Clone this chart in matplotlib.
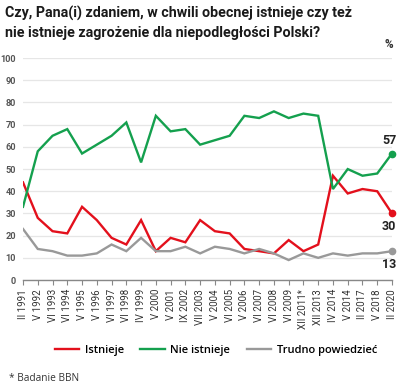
import matplotlib
matplotlib.use("Agg")
import matplotlib.pyplot as plt
from matplotlib.lines import Line2D

categories = ["II 1991", "V 1992", "VI 1993", "VI 1994", "V 1995", "V 1996", "VI 1997",
              "VI 1998", "IV 1999", "V 2000", "V 2001", "IX 2002", "VII 2003", "V 2004",
              "VI 2005", "V 2006", "VI 2007", "VI 2008", "VI 2009", "XII 2011*",
              "XII 2013", "IV 2014", "V 2014", "II 2017", "V 2018", "II 2020"]
istnieje = [44, 28, 22, 21, 33, 27, 19, 16, 27, 13, 19, 17, 27, 22, 21, 14, 13, 12, 18, 13,
            16, 47, 39, 41, 40, 30]
nie_istnieje = [33, 58, 65, 68, 57, 61, 65, 71, 53, 74, 67, 68, 61, 63, 65, 74, 73, 76, 73, 75,
                74, 41, 50, 47, 48, 57]
trudno = [23, 14, 13, 11, 11, 12, 16, 13, 19, 13, 13, 15, 12, 15, 14, 12, 14, 12, 9, 12,
          10, 12, 11, 12, 12, 13]
series_names = ["Istnieje", "Nie istnieje", "Trudno powiedzieć"]
yticks = [0, 10, 20, 30, 40, 50, 60, 70, 80, 90, 100]

RED = "#e3101c"
GREEN = "#14a04e"
GRAY = "#999999"
colors = [RED, GREEN, GRAY]

plt.rcParams['font.family'] = ['Roboto', 'DejaVu Sans']

fig = plt.figure(figsize=(4.0, 3.9), dpi=100)
ax = fig.add_axes([0.0575, 0.282, 0.9225, 0.569])

x = list(range(len(categories)))
for vals, c in zip([istnieje, nie_istnieje, trudno], colors):
    ax.plot(x, vals, color=c, lw=1.7, solid_joinstyle='miter', zorder=3)
    ax.plot([x[-1]], [vals[-1]], 'o', color=c, ms=4.5, zorder=4, clip_on=False)

ax.set_xlim(0, len(categories) - 1)
ax.set_ylim(0, 100)
ax.set_yticks(yticks)
ax.set_yticklabels([str(v) for v in yticks])
ax.tick_params(axis='y', length=0, pad=5, labelsize=6.6, labelcolor="#555555")
for t in ax.get_yticklabels():
    t.set_fontweight('bold')
ax.grid(axis='y', color="#e6e6e6", lw=0.9)
ax.set_axisbelow(True)
ax.set_xticks(x)
ax.set_xticklabels(categories)
ax.tick_params(axis='x', length=3.5, color="#888888", width=0.8, pad=3,
               labelrotation=90, labelsize=7, labelcolor="#333333")
for s in ['top', 'right', 'left']:
    ax.spines[s].set_visible(False)
ax.spines['bottom'].set_color("#888888")
ax.spines['bottom'].set_linewidth(1.0)

# end labels
ax.annotate(str(nie_istnieje[-1]), (x[-1], nie_istnieje[-1]), xytext=(-2, 5), textcoords='offset points',
            ha='center', va='bottom', fontsize=9, fontweight='bold', color="#222222")
ax.annotate(str(istnieje[-1]), (x[-1], istnieje[-1]), xytext=(-2, -5), textcoords='offset points',
            ha='center', va='top', fontsize=9, fontweight='bold', color="#222222")
ax.annotate(str(trudno[-1]), (x[-1], trudno[-1]), xytext=(-2, -5), textcoords='offset points',
            ha='center', va='top', fontsize=9, fontweight='bold', color="#222222")

fig.text(0.012, 0.985, "Czy, Pana(i) zdaniem, w chwili obecnej istnieje czy też\nnie istnieje zagrożenie dla niepodległości Polski?",
         ha='left', va='top', fontsize=10.3, fontweight='bold', color="#1a1a1a", linespacing=1.45)
fig.text(0.972, 0.868, "%", ha='center', va='bottom', fontsize=8.5, fontweight='bold', color="#333333")

handles = [Line2D([0], [0], color=c, lw=1.7) for c in colors]
fig.legend(handles, series_names, loc='center', bbox_to_anchor=(0.54, 0.102), ncol=3,
           frameon=False, handlelength=2.2, handletextpad=0.5, columnspacing=1.5,
           prop={'family': ['Open Sans', 'DejaVu Sans'], 'weight': 'semibold', 'size': 8})

fig.text(0.022, 0.03, "* Badanie BBN", ha='left', va='center', fontsize=7.3, color="#333333",
         family=['Open Sans', 'DejaVu Sans'])

fig.savefig("out.png", dpi=100)
